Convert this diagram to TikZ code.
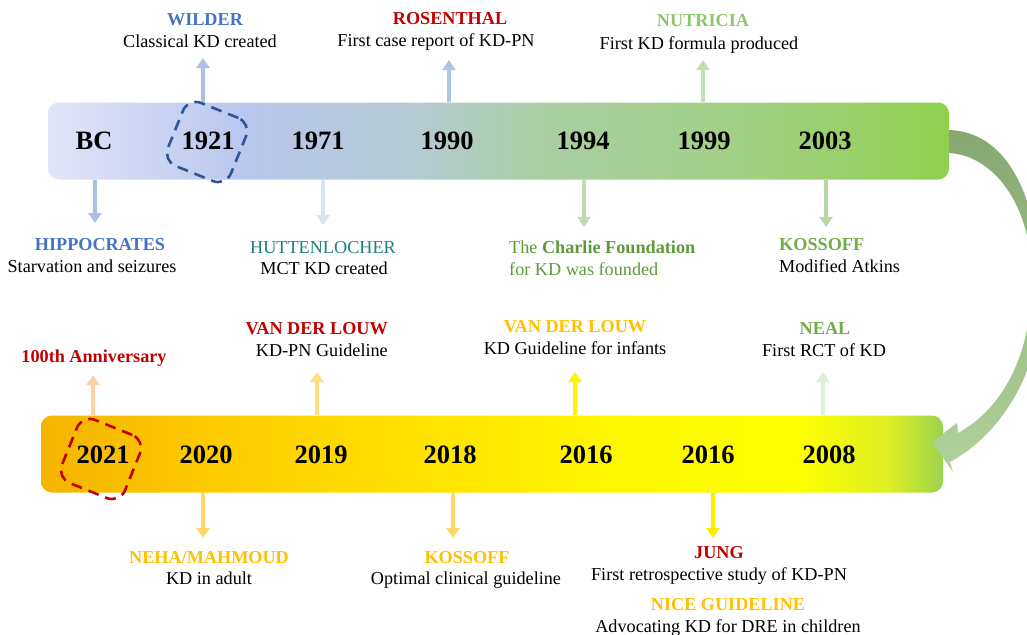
\documentclass[tikz,border=0pt]{standalone}
\usepackage{fontspec}
\setmainfont{Liberation Serif}
\usetikzlibrary{arrows.meta,positioning}

\definecolor{kdblue}{HTML}{4472C4}
\definecolor{kdnavy}{HTML}{2F5597}
\definecolor{kdred}{HTML}{C00000}
\definecolor{kdgreen}{HTML}{70AD47}
\definecolor{kdlime}{HTML}{8CC66C}
\definecolor{kdleaf}{HTML}{5E9A3A}
\definecolor{kdteal}{HTML}{1F7F80}
\definecolor{kdorange}{HTML}{FFC000}

% bar colours
\definecolor{ta}{HTML}{E2E5F7}
\definecolor{tb}{HTML}{B9C6EE}
\definecolor{tc}{HTML}{B4CBCF}
\definecolor{td}{HTML}{A9CFA0}
\definecolor{te}{HTML}{A1D084}
\definecolor{tf}{HTML}{8FD04E}
\definecolor{ba}{HTML}{F5B300}
\definecolor{bb}{HTML}{FCCA00}
\definecolor{bc}{HTML}{FFE000}
\definecolor{bd}{HTML}{FFF600}
\definecolor{be}{HTML}{FFFF00}
\definecolor{bf}{HTML}{DCEE24}
\definecolor{bg}{HTML}{9BD34C}

\pgfdeclarehorizontalshading{topshade}{100bp}{color(0bp)=(ta); color(25bp)=(ta);
  color(36bp)=(tb); color(46bp)=(tc); color(53bp)=(td); color(64bp)=(te);
  color(75bp)=(tf); color(100bp)=(tf)}
\pgfdeclarehorizontalshading{botshade}{100bp}{color(0bp)=(ba); color(25bp)=(ba);
  color(34bp)=(bb); color(45bp)=(bc); color(56bp)=(bd); color(67bp)=(be);
  color(72bp)=(bf); color(75bp)=(bg); color(100bp)=(bg)}

\begin{document}
\begin{tikzpicture}[x=1pt, y=-1pt,
  year/.style={anchor=base, inner sep=0pt, font=\fontsize{26.5}{26.5}\selectfont\bfseries},
  who/.style={anchor=base, inner sep=0pt, font=\fontsize{18.2}{18.2}\selectfont\bfseries},
  what/.style={anchor=base, inner sep=0pt, font=\fontsize{18.2}{18.2}\selectfont},
  bar/.style={shade, rounded corners=11pt, minimum height=77pt, inner sep=0pt},
  tick/.style={-{Triangle[width=13pt,length=10pt]}, line width=4.5pt},
  ring/.style={draw, dash pattern=on 11pt off 7pt, line width=2.6pt, rounded corners=14pt,
    minimum size=68pt, rotate=-22}]
  \useasboundingbox (0,0) rectangle (1027,634);

  % bars
  \node[bar, shading=topshade, minimum width=901pt] (topbar) at (498.5,141) {};
  \node[bar, shading=botshade, minimum width=902pt] (botbar) at (492,454) {};

  % turning arrow
  \shade[top color=kdgreen!75!black!70, bottom color=kdgreen!55!white]
    (949,130) .. controls (1005,132) and (1035,190) .. (1042,280)
    .. controls (1045,370) and (1000,435) .. (950,462)
    -- (953,472) -- (932,442) -- (957,423) -- (958,433)
    .. controls (1000,410) and (1030,360) .. (1032,285)
    .. controls (1033,200) and (990,155) .. (949,153) -- cycle;

  % years, first row
  \node[year] (ybc) at (94,149) {BC};
  \node[year] (y1921) at (208,149) {1921};
  \node[year] (y1971) at (318,149) {1971};
  \node[year] (y1990) at (447,149) {1990};
  \node[year] (y1994) at (583,149) {1994};
  \node[year] (y1999) at (704,149) {1999};
  \node[year] (y2003) at (825,149) {2003};
  \node[ring, draw=kdnavy] (r1921) at (207,142) {};

  % years, second row
  \node[year] (y2021) at (103,463) {2021};
  \node[year] (y2020) at (206,463) {2020};
  \node[year] (y2019) at (321,463) {2019};
  \node[year] (y2018) at (450,463) {2018};
  \node[year] (y2016a) at (586,463) {2016};
  \node[year] (y2016b) at (708,463) {2016};
  \node[year] (y2008) at (829,463) {2008};
  \node[ring, draw=kdred] (r2021) at (101,459) {};

  % labels above first row
  \node[who, text=kdblue] (wilder) at (205,26) {WILDER};
  \node[what] (wilderT) at (200,48) {Classical KD created};
  \node[who, text=kdred] (rosen) at (450,25) {ROSENTHAL};
  \node[what] (rosenT) at (436,47) {First case report of KD-PN};
  \node[who, text=kdlime] (nutri) at (703,27) {NUTRICIA};
  \node[what] (nutriT) at (699,49) {First KD formula produced};

  % labels below first row
  \node[who, text=kdblue] (hippo) at (100,250) {HIPPOCRATES};
  \node[what] (hippoT) at (92,272) {Starvation and seizures};
  \node[who, text=kdteal, font=\fontsize{18.2}{18.2}\selectfont] (hutten) at (323,253) {HUTTENLOCHER};
  \node[what] (huttenT) at (324,274) {MCT KD created};
  \node[what, anchor=base west, text=kdleaf] (charlie) at (509,253) {The \textbf{Charlie Foundation}};
  \node[what, anchor=base west, text=kdleaf] (charlieT) at (509,275) {for KD was founded};
  \node[who, anchor=base west, text=kdgreen] (koss1) at (779,250) {KOSSOFF};
  \node[what, anchor=base west] (koss1T) at (779,272) {Modified Atkins};

  % labels above second row
  \node[who, text=kdred] (anniv) at (94,362) {100th Anniversary};
  \node[who, anchor=base east, text=kdred] (louw1) at (388,334) {VAN DER LOUW};
  \node[what, anchor=base east] (louw1T) at (388,356) {KD-PN Guideline};
  \node[who, text=kdorange] (louw2) at (575,332) {VAN DER LOUW};
  \node[what] (louw2T) at (575,354) {KD Guideline for infants};
  \node[who, text=kdgreen] (neal) at (825,334) {NEAL};
  \node[what] (nealT) at (824,356) {First RCT of KD};

  % labels below second row
  \node[who, text=kdorange] (neha) at (209,563) {NEHA/MAHMOUD};
  \node[what] (nehaT) at (209,584) {KD in adult};
  \node[who, text=kdorange] (koss2) at (467,563) {KOSSOFF};
  \node[what] (koss2T) at (466,584) {Optimal clinical guideline};
  \node[who, text=kdred] (jung) at (719,558) {JUNG};
  \node[what] (jungT) at (719,580) {First retrospective study of KD-PN};
  \node[who, text=kdorange] (nice) at (728,610) {NICE GUIDELINE};
  \node[what] (niceT) at (728,632) {Advocating KD for DRE in children};

  % arrow tips
  \coordinate (a1921) at (203,58);
  \coordinate (a1990) at (449,60);
  \coordinate (a1999) at (703,60);
  \coordinate (abc) at (95,223);
  \coordinate (a1971) at (323,225);
  \coordinate (a1994) at (584,227);
  \coordinate (a2003) at (826,227);
  \coordinate (a2021) at (93,375);
  \coordinate (a2019) at (317,372);
  \coordinate (a2016a) at (575,372);
  \coordinate (a2008) at (823,372);
  \coordinate (a2020) at (203,538);
  \coordinate (a2018) at (453,538);
  \coordinate (a2016b) at (713,538);

  \draw[tick, draw=kdblue!45] (topbar.north -| a1921) -- (a1921);
  \draw[tick, draw=kdblue!42] (topbar.north -| a1990) -- (a1990);
  \draw[tick, draw=kdgreen!40] (topbar.north -| a1999) -- (a1999);
  \draw[tick, draw=kdblue!45] (topbar.south -| abc) -- (abc);
  \draw[tick, draw=kdblue!20] (topbar.south -| a1971) -- (a1971);
  \draw[tick, draw=kdgreen!45] (topbar.south -| a1994) -- (a1994);
  \draw[tick, draw=kdgreen!48] (topbar.south -| a2003) -- (a2003);

  \draw[tick, draw=orange!35] (botbar.north -| a2021) -- (a2021);
  \draw[tick, draw=kdorange!50] (botbar.north -| a2019) -- (a2019);
  \draw[tick, draw=yellow] (botbar.north -| a2016a) -- (a2016a);
  \draw[tick, draw=kdgreen!22] (botbar.north -| a2008) -- (a2008);
  \draw[tick, draw=kdorange!60] (botbar.south -| a2020) -- (a2020);
  \draw[tick, draw=kdorange!60] (botbar.south -| a2018) -- (a2018);
  \draw[tick, draw=yellow!95!orange] (botbar.south -| a2016b) -- (a2016b);
\end{tikzpicture}
\end{document}
